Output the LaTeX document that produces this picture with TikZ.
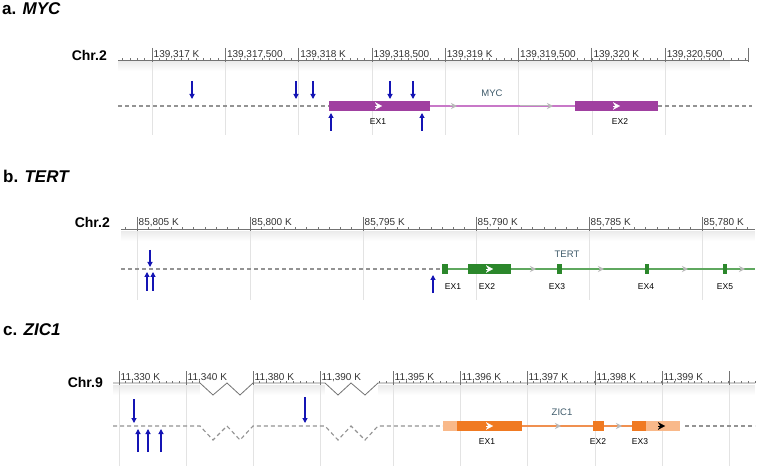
\documentclass[tikz,border=0pt]{standalone}
\usepackage{fontspec}
\setmainfont{Liberation Sans}
\usetikzlibrary{arrows.meta}

\definecolor{myc}{HTML}{A040A0}
\definecolor{mycline}{HTML}{C878C8}
\definecolor{tert}{HTML}{2B872B}
\definecolor{tertline}{HTML}{5FA85F}
\definecolor{zic}{HTML}{F07A22}
\definecolor{zicpale}{HTML}{F9B98A}
\definecolor{zicline}{HTML}{F09050}
\definecolor{genename}{HTML}{3E5A6A}
\definecolor{snpblue}{HTML}{1414B4}

\begin{document}
\begin{tikzpicture}[x=1pt, y=-1pt,
    title/.style={font=\fontsize{17}{17}\selectfont\bfseries, anchor=base west, inner sep=0},
    chrom/.style={font=\fontsize{14}{14}\selectfont\bfseries, anchor=base east, inner sep=0},
    rulertext/.style={font=\fontsize{10}{10}\selectfont, text=black!80, anchor=base west, inner sep=0},
    ruler/.style={black!55, line width=0.8pt},
    gridline/.style={gray!22, line width=0.6pt},
    flank/.style={gray!85, dash pattern=on 4pt off 3pt, line width=1.1pt},
    exlabel/.style={font=\fontsize{8.5}{8.5}\selectfont, inner sep=0},
    gene/.style={font=\fontsize{9.5}{9.5}\selectfont, text=genename, inner sep=0},
    snp/.style={-{Triangle[length=5pt,width=5pt]}, snpblue, line width=1.1pt},
    chev/.style={-{Stealth[length=7pt,width=7.5pt]}, white, line width=0.1pt},
    ichev/.style={-{Stealth[length=6pt,width=6pt]}, gray!55, line width=1pt}
]
    \fill[white] (0,0) rectangle (760,470);
    \useasboundingbox (0,0) rectangle (760,470);

    % Fading bands under the rulers: from/to/top
    \foreach \a/\b/\t in {118/730/61, 121/755/231, 113/200/385, 253/325/385, 378/755/385} {
        \foreach \k in {0,...,9} {
            \pgfmathsetmacro\c{16-1.6*\k}
            \fill[gray!\c] (\a,\t+\k) rectangle (\b,\t+\k+1);
        }
    }

    % ---------------- a. MYC ----------------
    \node[title] (titleA) at (2,15) {a. \textit{MYC}};
    \node[chrom] (chrA) at (107,61) {Chr.2};

    % Ruler
    \draw[ruler] (118,60) -- (748,60);
    \foreach \i in {-4,...,81} {
        \draw[ruler, line width=0.6pt] ({152+\i*7.33},60) -- ++(0,-2);
    }
    \foreach \x/\l in {152/{139,317 K}, 225.3/{139,317,500}, 298.6/{139,318 K}, 372/{139,318,500},
                       445.2/{139,319 K}, 518.5/{139,319,500}, 591.8/{139,320 K}, 665.1/{139,320,500}} {
        \draw[gridline] (\x,62) -- (\x,135);
        \draw[ruler] (\x,48) -- (\x,62);
        \node[rulertext] at (\x+1.5,57.5) {\l};
    }
    \draw[ruler] (748,48) -- (748,62);

    % Gene model
    \draw[flank] (118,106) -- (329,106);
    \draw[flank] (658,106) -- (752,106);
    \draw[mycline, line width=1.3pt] (430,106) -- (575,106);
    \draw[ichev] (450,106) -- (457,106);
    \draw[ichev] (520,106) -- (553,106);
    \fill[myc] (329,101) rectangle (430,111);
    \fill[myc] (575,101) rectangle (658,111);
    \draw[chev] (375,106) -- (382,106);
    \draw[chev] (613,106) -- (620,106);
    \node[gene] (mycName) at (492,93) {MYC};
    \node[exlabel] (mycEx1) at (378,122) {EX1};
    \node[exlabel] (mycEx2) at (620,122) {EX2};

    % Variants
    \foreach \x in {192,296,313,390,413} {
        \draw[snp] (\x,81) -- (\x,99);
    }
    \foreach \x in {331,422} {
        \draw[snp] (\x,131) -- (\x,113);
    }

    % ---------------- b. TERT ----------------
    \node[title] (titleB) at (3,183) {b. \textit{TERT}};
    \node[chrom] (chrB) at (110,228) {Chr.2};

    % Ruler
    \draw[ruler] (121,229) -- (755,229);
    \foreach \i in {-1,...,54} {
        \draw[ruler, line width=0.6pt] ({137+\i*11.3},229) -- ++(0,-2);
    }
    \foreach \x/\l in {137/{85,805 K}, 250/{85,800 K}, 363/{85,795 K},
                       476/{85,790 K}, 589/{85,785 K}, 702/{85,780 K}} {
        \draw[gridline] (\x,231) -- (\x,300);
        \draw[ruler] (\x,217) -- (\x,231);
        \node[rulertext] at (\x+1.5,226) {\l};
    }

    % Gene model
    \draw[flank] (121,269) -- (443,269);
    \draw[tertline, line width=1.3pt] (448,269) -- (755,269);
    \foreach \x in {536,604,688,745} {
        \draw[ichev] (\x-5,269) -- (\x,269);
    }
    \foreach \a/\b in {442/448, 468/511, 557/562, 645/649, 723/727} {
        \fill[tert] (\a,264) rectangle (\b,274);
    }
    \draw[chev] (486,269) -- (493,269);
    \node[gene] (tertName) at (567,254) {TERT};
    \foreach \x/\l in {453/1, 487/2, 557/3, 646/4, 725/5} {
        \node[exlabel] (tertEx\l) at (\x,286.5) {EX\l};
    }

    % Variants
    \draw[snp] (150,250) -- (150,267);
    \foreach \x in {147,153} {
        \draw[snp] (\x,291) -- (\x,272);
    }
    \draw[snp] (433,293) -- (433,275);

    % ---------------- c. ZIC1 ----------------
    \node[title] (titleC) at (3,335) {c. \textit{ZIC1}};
    \node[chrom] (chrC) at (103,387) {Chr.9};

    % Ruler (two breaks)
    \draw[ruler] (113,383) -- (200,383) -- (213,395) -- (227,383) -- (240,395) -- (253,383)
        -- (325,383) -- (338,395) -- (351,383) -- (365,395) -- (378,383) -- (755,383);
    \foreach \i in {0,...,12} {
        \draw[ruler, line width=0.6pt] ({119+\i*6.7},383) -- ++(0,-2);
    }
    \foreach \i in {0,...,10} {
        \draw[ruler, line width=0.6pt] ({253+\i*6.7},383) -- ++(0,-2);
    }
    \foreach \i in {-2,...,54} {
        \draw[ruler, line width=0.6pt] ({393+\i*6.7},383) -- ++(0,-2);
    }
    \foreach \x/\l in {119/{11,330 K}, 186/{11,340 K}, 253/{11,380 K}, 320/{11,390 K}, 393/{11,395 K},
                       460/{11,396 K}, 527/{11,397 K}, 595/{11,398 K}, 662/{11,399 K}} {
        \draw[gridline] (\x,385) -- (\x,466);
        \draw[ruler] (\x,371) -- (\x,385);
        \node[rulertext] at (\x+1.5,380) {\l};
    }
    \draw[gridline] (729,385) -- (729,466);
    \draw[ruler] (729,371) -- (729,385);

    % Gene model
    \draw[flank] (113,426) -- (200,426) -- (213,440) -- (227,426) -- (240,440) -- (253,426)
        -- (325,426) -- (338,440) -- (351,426) -- (365,440) -- (378,426) -- (443,426);
    \draw[flank] (685,426) -- (755,426);
    \draw[zicline, line width=1.3pt] (522,426) -- (632,426);
    \draw[ichev] (556,426) -- (561,426);
    \draw[ichev] (617,426) -- (622,426);
    \fill[zicpale] (443,421) rectangle (457,431);
    \fill[zic] (457,421) rectangle (522,431);
    \fill[zic] (593,421) rectangle (604,431);
    \fill[zic] (632,421) rectangle (646,431);
    \fill[zicpale] (646,421) rectangle (680,431);
    \draw[chev] (486,426) -- (493,426);
    \draw[chev, black] (658,426) -- (665,426);
    \node[gene] (zicName) at (562,412) {ZIC1};
    \node[exlabel] (zicEx1) at (487,442) {EX1};
    \node[exlabel] (zicEx2) at (598,442) {EX2};
    \node[exlabel] (zicEx3) at (640,442) {EX3};

    % Variants
    \draw[snp] (134,399) -- (134,423);
    \draw[snp] (305,397) -- (305,423);
    \foreach \x in {138,148,161} {
        \draw[snp] (\x,452) -- (\x,429);
    }
\end{tikzpicture}
\end{document}
